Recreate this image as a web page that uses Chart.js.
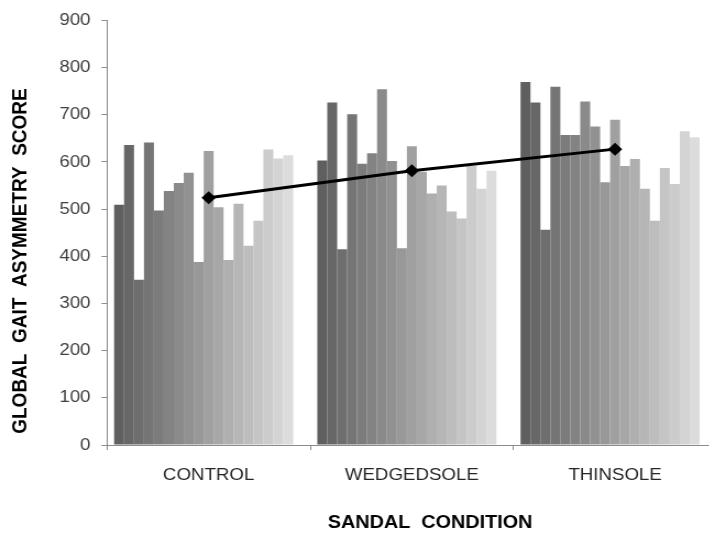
<!DOCTYPE html>
<html><head><meta charset="utf-8">
<script src="https://cdn.jsdelivr.net/npm/chart.js@4"></script>
<style>
html,body{margin:0;padding:0;background:#fff;overflow:hidden;width:709px;height:539px}
#wrap{position:absolute;left:0;top:0;width:658px;height:539px;transform:scaleX(1.1);transform-origin:0 0}
</style></head><body>
<div id="wrap"><canvas id="c"></canvas></div>
<script>
const categories = ['CONTROL', 'WEDGEDSOLE', 'THINSOLE'];
const control = [509, 636, 350, 641, 497, 538, 555, 577, 388, 623, 504, 392, 511, 422, 475, 626, 607, 614];
const wedgedsole = [603, 726, 415, 701, 596, 618, 754, 602, 417, 633, 579, 533, 550, 495, 480, 591, 543, 581];
const thinsole = [769, 726, 456, 759, 657, 657, 728, 675, 557, 689, 591, 606, 543, 475, 587, 553, 665, 652];
const means = [524, 581, 627];
const yTicks = [0, 100, 200, 300, 400, 500, 600, 700, 800, 900];
const xTitle = 'SANDAL  CONDITION';
const yTitle = 'GLOBAL  GAIT  ASYMMETRY  SCORE';

const greys = [95,103,110,117,124,131,138,145,152,160,167,175,182,189,197,204,212,220];
const FONT = '"Liberation Sans", Arial, sans-serif';

const datasets = [];
for (let i = 0; i < control.length; i++) {
  datasets.push({
    type: 'bar',
    label: 'Subject ' + (i + 1),
    data: [control[i], wedgedsole[i], thinsole[i]],
    backgroundColor: `rgb(${greys[i]},${greys[i]},${greys[i]})`,
    borderWidth: 0,
    categoryPercentage: 0.9305,
    barPercentage: 1,
    order: 1
  });
}
// empty trailing slot (as in the original series layout)
datasets.push({ type: 'bar', label: '', data: [null, null, null], categoryPercentage: 0.9305, barPercentage: 1, order: 1 });
datasets.push({
  type: 'line',
  label: 'Mean',
  data: means,
  borderColor: '#000',
  borderWidth: 3,
  pointStyle: 'rectRot',
  pointRadius: 6.5,
  pointBackgroundColor: '#000',
  pointBorderColor: '#000',
  pointBorderWidth: 0,
  order: 0
});

const axisTitles = {
  id: 'axisTitles',
  afterDraw(chart) {
    const ctx = chart.ctx;
    ctx.save();
    ctx.fillStyle = '#000';
    ctx.textAlign = 'center';
    ctx.textBaseline = 'middle';
    ctx.font = 'bold 18px ' + FONT;
    ctx.fillText(xTitle, 391, 523);
    ctx.translate(19, 261);
    ctx.rotate(-Math.PI / 2);
    ctx.font = 'bold 19px ' + FONT;
    ctx.fillText(yTitle, 0, 0);
    ctx.restore();
  }
};

new Chart(document.getElementById('c'), {
  data: { labels: categories, datasets },
  options: {
    responsive: true,
    maintainAspectRatio: false,
    animation: false,
    layout: { padding: { top: 20.3, left: 0, right: 0, bottom: 0 } },
    plugins: { legend: { display: false }, tooltip: { enabled: false } },
    scales: {
      x: {
        ticks: { color: '#262626', font: { family: FONT, size: 17 }, padding: 15 },
        grid: { display: true, drawOnChartArea: false, drawTicks: true, tickLength: 5, color: '#8c8c8c', offset: true },
        border: { display: true, color: '#8c8c8c', width: 1 },
        afterFit(s) { s.height = 94; }
      },
      y: {
        min: 0, max: 900,
        afterBuildTicks(s) { s.ticks = yTicks.map(v => ({ value: v })); },
        ticks: { color: '#404040', font: { family: FONT, size: 17 }, padding: 10 },
        grid: { display: true, drawOnChartArea: false, drawTicks: true, tickLength: 5, color: '#8c8c8c' },
        border: { display: true, color: '#8c8c8c', width: 1 },
        afterFit(s) { s.width = 97.3; }
      }
    }
  },
  plugins: [axisTitles]
});
</script>
</body></html>
